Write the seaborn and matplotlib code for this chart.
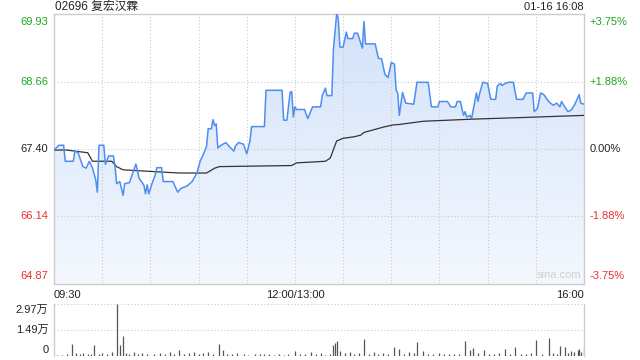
import numpy as np
import pandas as pd
import matplotlib
matplotlib.use("Agg")
import matplotlib.pyplot as plt
import seaborn as sns

# ---------------- data ----------------
title = "02696 复宏汉霖"
stamp = "01-16 16:08"
prev_close = 67.40
price_ticks = [64.87, 66.14, 67.40, 68.66, 69.93]
pct_labels = ["-3.75%", "-1.88%", "0.00%", "+1.88%", "+3.75%"]
time_tick_pos = [0, 150, 330]
time_tick_labels = ["09:30", "12:00/13:00", "16:00"]
vol_tick_vals = [0, 14850, 29700]
vol_tick_labels = ["0", "1.49万", "2.97万"]

price_t = [0, 3, 6, 7, 12, 13, 15, 18, 20, 22, 24, 26, 27, 28, 31, 32, 34, 37, 38, 39,
           41, 43, 44, 47, 49, 51, 53, 56, 57, 58, 59, 61, 63, 64, 67, 68, 74, 77, 79, 83,
           86, 89, 91, 93, 95, 96, 98, 99, 100, 101, 102, 104, 107, 110, 112, 113, 115, 118, 120, 122,
           123, 131, 132, 142, 143, 145, 147, 148, 149, 150, 151, 156, 158, 161, 166, 167, 169, 170, 173, 174,
           176, 177, 178, 180, 182, 183, 186, 187, 189, 192, 193, 194, 200, 202, 204, 206, 208, 210, 212, 213,
           214, 215, 217, 219, 224, 226, 233, 235, 239, 240, 245, 247, 250, 251, 253, 255, 256, 257, 259, 260,
           263, 264, 265, 267, 270, 272, 275, 276, 278, 279, 281, 283, 286, 288, 292, 294, 298, 299, 301, 303,
           305, 307, 309, 311, 313, 315, 316, 318, 320, 322, 324, 327, 328, 330]
price_v = [67.38, 67.47, 67.47, 67.17, 67.17, 67.36, 67.33, 67.07, 67.04, 67.17, 67.04, 66.82, 66.59, 67.47, 67.47, 67.11, 67.27, 67.27, 67.07, 66.75,
           66.79, 66.53, 66.75, 66.77, 66.95, 67.12, 66.85, 66.72, 66.56, 66.73, 66.56, 66.75, 66.91, 67.05, 67.05, 66.79, 66.79, 66.59, 66.66, 66.71,
           66.79, 66.95, 67.17, 67.30, 67.45, 67.78, 67.78, 67.95, 67.84, 67.87, 67.42, 67.47, 67.52, 67.42, 67.36, 67.46, 67.52, 67.49, 67.31, 67.55,
           67.82, 67.82, 68.50, 68.50, 67.94, 67.94, 68.46, 68.48, 68.00, 68.19, 68.14, 68.14, 67.97, 68.19, 68.19, 68.40, 68.54, 68.40, 68.40, 69.28,
           69.93, 69.85, 69.31, 69.31, 69.59, 69.47, 69.47, 69.57, 69.57, 69.29, 69.79, 69.37, 69.37, 69.10, 69.09, 68.80, 68.74, 69.02, 68.99, 68.51,
           68.45, 68.03, 68.46, 68.26, 68.24, 68.65, 68.65, 68.19, 68.19, 68.29, 68.29, 68.19, 68.19, 68.29, 68.29, 68.03, 68.10, 68.00, 68.03, 67.97,
           68.45, 68.29, 68.44, 68.65, 68.63, 68.33, 68.33, 68.58, 68.63, 68.59, 68.63, 68.65, 68.65, 68.33, 68.33, 68.45, 68.45, 68.10, 68.16, 68.45,
           68.42, 68.33, 68.26, 68.22, 68.26, 68.19, 68.29, 68.19, 68.10, 68.13, 68.22, 68.42, 68.26, 68.24]

avg_t = [0, 8, 21, 24, 36, 39, 43, 60, 78, 95, 100, 103, 148, 151, 169, 172, 174, 176, 180, 187,
         191, 193, 205, 211, 215, 230, 261, 292, 330]
avg_v = [67.38, 67.38, 67.33, 67.17, 67.17, 67.07, 67.01, 66.98, 66.95, 66.95, 67.04, 67.07, 67.09, 67.14, 67.17, 67.23, 67.39, 67.55, 67.60, 67.63,
         67.66, 67.71, 67.81, 67.85, 67.86, 67.92, 67.96, 67.99, 68.03]

vol_t = [11, 25, 39, 41, 43, 78, 103, 105, 150, 160, 174, 175, 176, 178, 193, 212, 215, 226, 230, 256,
         259, 261, 268, 281, 287, 300, 308, 315, 318, 322, 326, 327, 330,
         2, 5, 8, 14, 16, 18, 21, 23, 28, 30, 33, 36, 45, 47, 50, 52, 55, 58, 62, 66,
         69, 72, 75, 81, 84, 87, 90, 93, 96, 99, 108, 111, 114, 118, 121, 125, 128, 131, 134, 137,
         140, 143, 146, 153, 156, 163, 166, 169, 172, 181, 184, 187, 190, 196, 199, 202, 205, 208, 218, 221,
         224, 233, 236, 240, 243, 246, 249, 252, 264, 271, 274, 277, 284, 291, 294, 297, 304, 311, 313, 320,
         324, 328]
vol_v = [6900, 6300, 29700, 6300, 11400, 3500, 6900, 3400, 3000, 2500, 6500, 7200, 8500, 3000, 9700, 5000, 4000, 8000, 3000, 8500,
         3500, 4500, 3500, 4000, 5000, 9100, 10300, 5700, 5000, 3000, 3500, 4000, 4500,
         800, 600, 900, 1500, 1200, 1800, 1000, 1400, 900, 1700, 1100, 2200, 1500, 1200, 2000, 1300, 1600, 1100, 900, 1800,
         1200, 2100, 1300, 1000, 1500, 2100, 1400, 1700, 2400, 1100, 1300, 900, 1600, 1200, 800, 1000, 1400, 900, 1200, 700,
         1100, 800, 1300, 900, 1200, 1000, 1500, 800, 1300, 1500, 2000, 1300, 1800, 1200, 2000, 1000, 1600, 900, 1200, 2000,
         1500, 1300, 1100, 1700, 1000, 1400, 900, 1200, 1500, 1000, 1300, 1600, 1100, 1300, 1000, 1500, 1200, 1600, 1300, 1800,
         2000, 2500]

# ---------------- style ----------------
sns.set_style("white")
plt.rcParams["font.family"] = ["Liberation Sans", "Noto Sans CJK SC", "DejaVu Sans"]

GREEN = "#1ea61e"
RED = "#ee2f2f"
DARK = "#222222"
GRID = "#c8c8c8"
SPINE = "#cccccc"
LINE = "#4d8ef0"

fig = plt.figure(figsize=(6.4, 3.6), dpi=100)
ax = fig.add_axes([54 / 640, 1 - 284 / 360, 530 / 640, 270 / 360])
axv = fig.add_axes([54 / 640, 1 - 356 / 360, 530 / 640, 52 / 360])

df_p = pd.DataFrame({"t": price_t, "p": price_v})
df_a = pd.DataFrame({"t": avg_t, "p": avg_v})

ymin, ymax = price_ticks[0], price_ticks[-1]
ax.set_xlim(0, 330)
ax.set_ylim(ymin, ymax)

# gradient fill under price line
poly = ax.fill_between(df_p["t"], df_p["p"], ymin, color="none", lw=0)
grad = np.linspace(0, 1, 256).reshape(-1, 1)
cmap = matplotlib.colors.LinearSegmentedColormap.from_list("g", ["#f4f8fe", "#d3e2fa"])
im = ax.imshow(grad, aspect="auto", cmap=cmap, origin="lower",
               extent=[0, 330, ymin, ymax], zorder=1)
path = poly.get_paths()[0]
im.set_clip_path(path, transform=ax.transData)

sns.lineplot(data=df_p, x="t", y="p", ax=ax, color=LINE, linewidth=1.1,
             estimator=None, sort=False, zorder=4)
sns.lineplot(data=df_a, x="t", y="p", ax=ax, color="#333333", linewidth=0.9,
             estimator=None, sort=False, zorder=3)

# grid
for x in range(30, 330, 30):
    ax.axvline(x, color=GRID, lw=0.8, ls=(0, (1, 2)), zorder=2)
for y in price_ticks[1:-1]:
    ax.axhline(y, color=GRID, lw=0.8, ls=(0, (1, 2)), zorder=2)

ax.set_xticks([])
ax.set_yticks([])
ax.set_xlabel("")
ax.set_ylabel("")
for s in ax.spines.values():
    s.set_color(SPINE)
    s.set_linewidth(1)

# price labels left / right
colors = [RED, RED, DARK, GREEN, GREEN]
vas = ["bottom", "center", "center", "center", "top"]
offs = [2, 0, 0, 0, -2]
for val, pl, c, va, o in zip(price_ticks, pct_labels, colors, vas, offs):
    ax.annotate(f"{val:.2f}", xy=(0, val), xycoords=("axes fraction", "data"),
                xytext=(-4, o), textcoords="offset points", ha="right", va=va,
                color=c, fontsize=8)
    ax.annotate(pl, xy=(1, val), xycoords=("axes fraction", "data"),
                xytext=(4, o), textcoords="offset points", ha="left", va=va,
                color=c, fontsize=8)

# time labels
has = ["left", "center", "right"]
for pos, lab, ha in zip(time_tick_pos, time_tick_labels, has):
    ax.annotate(lab, xy=(pos, 0), xycoords=("data", "axes fraction"),
                xytext=(0, -4), textcoords="offset points", ha=ha, va="top",
                color=DARK, fontsize=8)

fig.text(55 / 640, 1 - 7 / 360, title, ha="left", va="center", fontsize=8.5,
         color=DARK, family=["Liberation Sans", "Noto Sans CJK SC"])
fig.text(584 / 640, 1 - 7 / 360, stamp, ha="right", va="center", fontsize=8, color=DARK)
ax.text(0.995, 0.015, "sina.com", transform=ax.transAxes, ha="right", va="bottom",
        color="#cfcfcf", fontsize=8, zorder=5)

# volume
axv.vlines(vol_t, 0, vol_v, color="#555555", lw=0.9)
axv.set_xlim(0, 330)
axv.set_ylim(0, vol_tick_vals[-1])
for y in vol_tick_vals[1:]:
    axv.axhline(y, color=GRID, lw=0.8, ls=(0, (1, 2)))
axv.set_xticks([])
axv.set_yticks([])
for k, s in axv.spines.items():
    s.set_color(SPINE)
    s.set_linewidth(1)
axv.spines["top"].set_visible(False)
axv.spines["bottom"].set_visible(False)
vvas = ["bottom", "center", "top"]
voffs = [1, 0, -1]
for val, lab, va, o in zip(vol_tick_vals, vol_tick_labels, vvas, voffs):
    axv.annotate(lab, xy=(0, val), xycoords=("axes fraction", "data"),
                 xytext=(-4, o), textcoords="offset points", ha="right", va=va,
                 color=DARK, fontsize=8)

fig.savefig("out.png", dpi=100)
